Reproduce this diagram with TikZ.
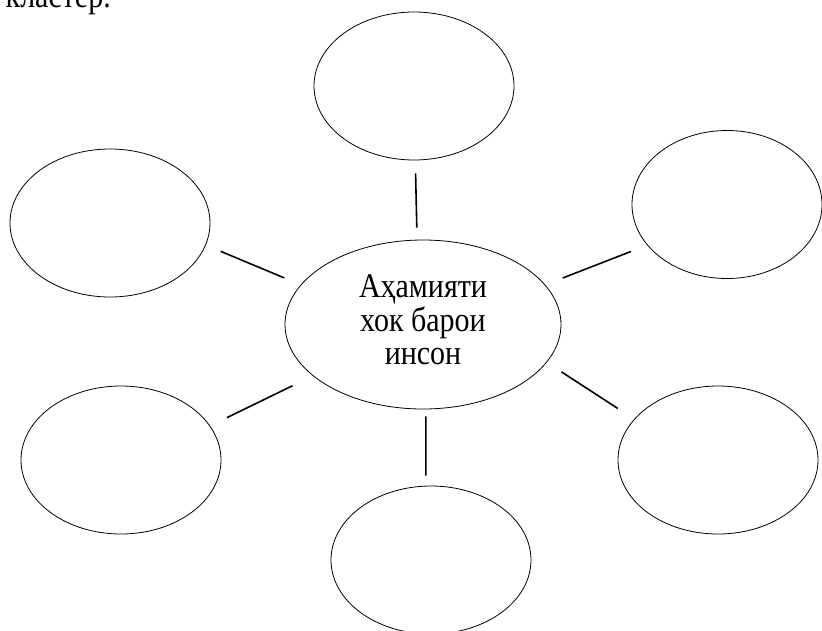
\documentclass[tikz,border=0pt]{standalone}
\usepackage{fontspec}
\setmainfont{Liberation Serif}
\usetikzlibrary{shapes.geometric}
\def\tallbox#1{\scalebox{1}[1.15]{#1}}
\tikzset{
	bubble/.style={draw, ellipse, line width=0.8pt, inner sep=0pt, minimum width=200pt, minimum height=148pt},
	link/.style={line width=1.6pt},
	word/.style={font=\fontsize{30}{28.7}\selectfont}
}
\begin{document}
\begin{tikzpicture}[x=1pt,y=-1pt]
				\useasboundingbox (0,0) rectangle (822,630);
				\clip (0,0) rectangle (822,630);
				
				\node[word, anchor=base east, inner sep=0pt] (caption) at (111,7) {\tallbox{кластер.}};
				
				\node[bubble, word, minimum width=276pt, minimum height=169pt] (hub) at (423,324.5) {\tallbox{\begin{tabular}{@{}c@{}}Аҳамияти\\хок барои\\инсон\end{tabular}}};
				
				\node[bubble] (top) at (414,86) {};
				\node[bubble] (ltop) at (110,223) {};
				\node[bubble, minimum width=190pt] (rtop) at (727,204.5) {};
				\node[bubble] (lbot) at (121,460) {};
				\node[bubble] (rbot) at (718,460) {};
				\node[bubble] (bot) at (431,560) {};
				
				\draw[link, shorten <=12pt, shorten >=13pt] (hub.94.7) -- (top.-89.2);
				\draw[link, shorten <=17.7pt, shorten >=16pt] (hub.162.5) -- (ltop.-13.5);
				\draw[link, shorten <=18.7pt, shorten >=17.4pt] (hub.18.9) -- (rtop.207.9);
				\draw[link, shorten <=22.5pt, shorten >=18.6pt] (hub.205.7) -- (lbot.21.8);
				\draw[link, shorten <=17.4pt, shorten >=19.4pt] (hub.-17.1) -- (rbot.154.2);
				\draw[link, shorten <=7pt, shorten >=10pt] (hub.-88.6) -- (bot.94.6);
			\end{tikzpicture}
\end{document}
